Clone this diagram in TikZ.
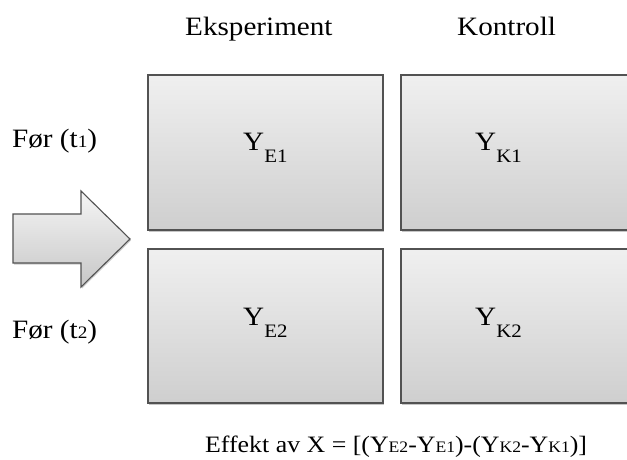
\documentclass[tikz,border=0pt]{standalone}
\usepackage{fontspec}
\setmainfont[FakeStretch=1.1]{Liberation Serif}
\usetikzlibrary{shadows}
\tikzset{
  cell/.style={draw=black!68, line width=1.2pt, top color=black!6, bottom color=black!19,
    drop shadow={shadow xshift=1.2pt, shadow yshift=-1.5pt, opacity=0.45}},
  lbl/.style={font=\fontsize{26.5}{31}\selectfont, anchor=base west, inner sep=0pt},
}
\newcommand{\subsc}[1]{\raisebox{-12pt}{\fontsize{19}{22}\selectfont #1}}
\newcommand{\smc}[1]{{\fontsize{17.5}{21}\selectfont #1}}
\begin{document}
\begin{tikzpicture}[x=1pt,y=-1pt]
\useasboundingbox (0,0) rectangle (627,459);
\clip (0,0) rectangle (627,459);
% column headings
\node[lbl] (hE) at (185,35) {Eksperiment};
\node[lbl] (hK) at (457,35) {Kontroll};
% the four measurement cells
\path[cell] (148,75) rectangle (383,230);
\path[cell] (401,75) rectangle (660,230);
\path[cell] (148,249) rectangle (383,403);
\path[cell] (401,249) rectangle (660,403);
\node[lbl] (yE1) at (243,150) {Y\subsc{E1}};
\node[lbl] (yK1) at (475,150) {Y\subsc{K1}};
\node[lbl] (yE2) at (243,325) {Y\subsc{E2}};
\node[lbl] (yK2) at (475,325) {Y\subsc{K2}};
% row labels
\node[lbl] (r1) at (12,147) {Før (t\smc{1})};
\node[lbl] (r2) at (12,338) {Før (t\smc{2})};
% block arrow pointing at the cells
\path[draw=black!68, line width=1.1pt, top color=black!4, bottom color=black!22,
  drop shadow={shadow xshift=1pt, shadow yshift=-1.5pt, opacity=0.4}]
  (13,214) -- (81,214) -- (81,191) -- (130,239) -- (81,287) -- (81,263) -- (13,263) -- cycle;
% effect formula
\node[lbl, font=\fontsize{23.5}{27}\selectfont] (eff) at (205,452)
  {Effekt av X = [(Y{\fontsize{16}{19}\selectfont E2}-Y{\fontsize{16}{19}\selectfont E1})-(Y{\fontsize{16}{19}\selectfont K2}-Y{\fontsize{16}{19}\selectfont K1})]};
\end{tikzpicture}
\end{document}
